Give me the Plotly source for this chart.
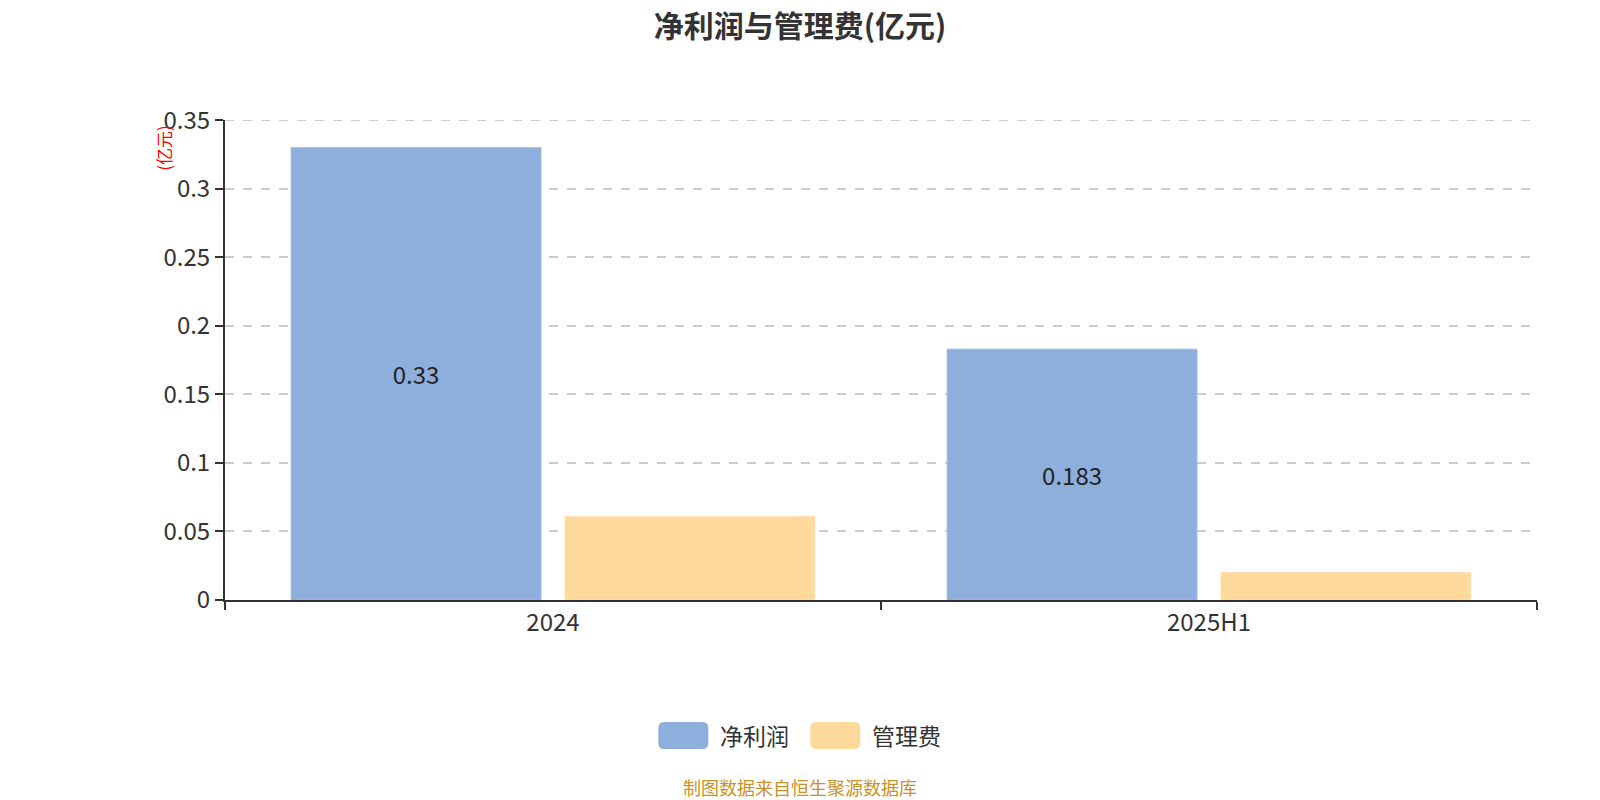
import plotly.graph_objects as go

categories = ["2024", "2025H1"]
net_profit = [0.33, 0.183]
mgmt_fee = [0.061, 0.020]
series_names = ["净利润", "管理费"]
series_colors = ["#8eaedb", "#fed99b"]
y_ticks = [0, 0.05, 0.1, 0.15, 0.2, 0.25, 0.3, 0.35]
y_tick_text = ["0", "0.05", "0.1", "0.15", "0.2", "0.25", "0.3", "0.35"]

FONT = "Noto Sans CJK SC, Microsoft YaHei, sans-serif"

# layout geometry (figure pixels)
W, H = 1600, 800
ML, MR, MT, MB = 216.5, 71, 112.4, 208
PW = W - ML - MR
PH = H - MT - MB


def px_x(X):
    return (X - ML) / PW


def px_y(Y):
    return (H - MB - Y) / PH


fig = go.Figure()
fig.add_trace(go.Bar(
    x=categories, y=net_profit, name=series_names[0],
    marker=dict(color=series_colors[0], line=dict(color="#a3bde3", width=1)),
    text=[str(v) for v in net_profit], textposition="inside",
    insidetextanchor="middle", textangle=0,
    textfont=dict(size=24, color="#222222", family=FONT),
    hoverinfo="x+y", showlegend=False,
))
fig.add_trace(go.Bar(
    x=categories, y=mgmt_fee, name=series_names[1],
    marker=dict(color=series_colors[1], line=dict(color="#fee3b4", width=1)),
    hoverinfo="x+y", showlegend=False,
))

fig.update_layout(
    width=W, height=H,
    paper_bgcolor="white", plot_bgcolor="white",
    margin=dict(l=ML, r=MR, t=MT, b=MB, autoexpand=False),
    barmode="group", bargap=0.165, bargroupgap=0.0876,
    font=dict(family=FONT, color="#333333"),
    title=dict(text="<b>净利润与管理费(亿元)</b>", x=792 / W, xanchor="center",
               y=1 - 18 / H, yanchor="middle",
               font=dict(size=30, color="#333333", family=FONT)),
    xaxis=dict(
        showline=True, linecolor="#333333", linewidth=2,
        ticks="outside", tickson="boundaries", ticklen=8, tickcolor="#333333",
        tickwidth=1.5,
        tickfont=dict(size=24, color="#333333"), showgrid=False,
    ),
    yaxis=dict(
        range=[0, 0.3502], tickvals=y_ticks, ticktext=y_tick_text,
        showline=True, linecolor="#333333", linewidth=2,
        ticks="outside", ticklen=8, tickcolor="#333333", tickwidth=1.5,
        tickfont=dict(size=24, color="#333333"),
        showgrid=True, gridcolor="#cccccc", griddash="dash", gridwidth=1.5,
        zeroline=False,
    ),
)

# top gridline (plotly omits the one at the plot edge)
fig.add_shape(type="line", xref="paper", yref="y", x0=0, x1=1,
              y0=y_ticks[-1], y1=y_ticks[-1], layer="below",
              line=dict(color="#cccccc", width=1.5, dash="dash"))


# custom legend with rounded swatches
def rounded_rect(x0, y0, x1, y1, r=6):
    rx, ry = r / PW, r / PH
    X0, X1 = px_x(x0), px_x(x1)
    Yt, Yb = px_y(y0), px_y(y1)
    return (f"M {X0+rx} {Yt} L {X1-rx} {Yt} Q {X1} {Yt} {X1} {Yt-ry} "
            f"L {X1} {Yb+ry} Q {X1} {Yb} {X1-rx} {Yb} "
            f"L {X0+rx} {Yb} Q {X0} {Yb} {X0} {Yb+ry} "
            f"L {X0} {Yt-ry} Q {X0} {Yt} {X0+rx} {Yt} Z")


legend_items = [(650, 710), (802, 862)]
for (sx, tx), name, col in zip(legend_items, series_names, series_colors):
    fig.add_shape(type="path", xref="paper", yref="paper",
                  path=rounded_rect(sx, 714, sx + 50, 741),
                  fillcolor=col, line=dict(width=0))
    fig.add_annotation(text=name, xref="paper", yref="paper",
                       x=px_x(tx), y=px_y(727), xanchor="left", yanchor="middle",
                       showarrow=False,
                       font=dict(size=23, color="#333333", family=FONT))

fig.add_annotation(
    text="(亿元)", xref="paper", yref="paper", x=px_x(155.5), y=px_y(115),
    xanchor="center", yanchor="top", textangle=-90, showarrow=False,
    font=dict(size=17, color="#ff0000", family=FONT),
)
fig.add_annotation(
    text="制图数据来自恒生聚源数据库", xref="paper", yref="paper",
    x=px_x(792), y=px_y(779), xanchor="center", yanchor="middle", showarrow=False,
    font=dict(size=18, color="#c8912a", family=FONT),
)

fig.write_html("out.html")
